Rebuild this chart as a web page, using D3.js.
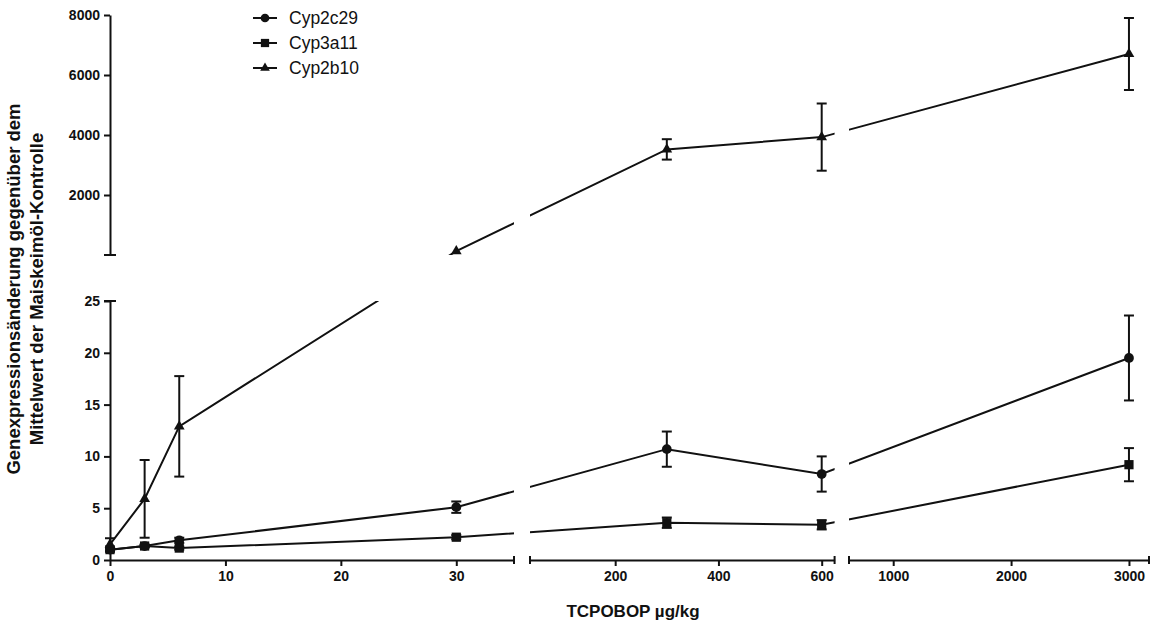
<html><head>
<title>TCPOBOP Dosis-Wirkung</title>
<script src="https://d3js.org/d3.v7.min.js"></script>
<style>
  body { margin: 0; background: #fff; }
  svg text { font-family: "Liberation Sans", Arial, sans-serif; fill: #111; }
  .axis path, .axis line { stroke: #111; stroke-width: 2; }
  .axis text { font-size: 14px; font-weight: bold; }
  .series { fill: none; stroke: #111; stroke-width: 2; }
  .err { stroke: #111; stroke-width: 2; }
  .legend text { font-size: 17.5px; }
  .label { font-size: 17px; font-weight: bold; }
  .ylabel { font-size: 18.5px; font-weight: bold; }
</style>
</head>
<body>
<svg id="chart" width="1150" height="626"></svg>

<script>
// 1. Data
let doses = [0, 3, 6, 30, 300, 600, 3000];
let seriesNames = ["Cyp2c29", "Cyp3a11", "Cyp2b10"];
let cyp2c29 = [1.0, 1.35, 1.9, 5.1, 10.7, 8.3, 19.5];
let cyp2c29Err = [0.2, 0.15, 0.25, 0.55, 1.7, 1.7, 4.1];
let cyp3a11 = [1.0, 1.35, 1.15, 2.2, 3.6, 3.4, 9.2];
let cyp3a11Err = [0.15, 0.1, 0.15, 0.2, 0.5, 0.45, 1.6];
let cyp2b10 = [1.5, 5.9, 12.9, 130, 3520, 3930, 6700];
let cyp2b10Err = [0.6, 3.75, 4.85, 0, 340, 1120, 1200];

let xTicks1 = [0, 10, 20, 30];
let xTicks2 = [200, 400, 600];
let xTicks3 = [1000, 2000, 3000];
let yTicksLow = [0, 5, 10, 15, 20, 25];
let yTicksHigh = [2000, 4000, 6000, 8000];

// 2. Broken scales: three x segments, two y panels
let svg = d3.select("svg#chart");
let xSegs = [
  d3.scaleLinear().domain([0, 35]).range([110, 514]),
  d3.scaleLinear().domain([35, 625]).range([530, 834.6]),
  d3.scaleLinear().domain([625, 3170]).range([849, 1149])
];
let yLow = d3.scaleLinear().domain([0, 25]).range([560, 301]);
let yHigh = d3.scaleLinear().domain([0, 8000]).range([255, 15]);
let fmt = d3.format("d");

function xPos(v) {
  if (v <= 35) return xSegs[0](v);
  if (v <= 625) return xSegs[1](v);
  return xSegs[2](v);
}
function yScaleFor(v) { return v <= 25 ? yLow : yHigh; }
function yPos(v) { return yScaleFor(v)(v); }

// clip path = union of all panel pieces, so lines get the break gaps
let clip = svg.append("defs").append("clipPath").attr("id", "panels");
xSegs.forEach(function(xs, i) {
  [yLow, yHigh].forEach(function(ys) {
    let x0 = xs.range()[0] - (i == 0 ? 3 : 0);
    let x1 = xs.range()[1];
    clip.append("rect")
      .attr("x", x0).attr("width", x1 - x0)
      .attr("y", ys.range()[1]).attr("height", ys.range()[0] - ys.range()[1]);
  });
});

// 3. Axes
function cap(x1, y1, x2, y2) {
  svg.append("line").attr("class", "capline")
    .attr("x1", x1).attr("y1", y1).attr("x2", x2).attr("y2", y2)
    .attr("stroke", "#111").attr("stroke-width", 2);
}

let axisY = 560;
let xTickSets = [xTicks1, xTicks2, xTicks3];
xSegs.forEach(function(xs, i) {
  svg.append("g")
    .attr("class", "x axis")
    .attr("transform", "translate(0," + axisY + ")")
    .call(d3.axisBottom(xs).tickValues(xTickSets[i]).tickFormat(fmt)
      .tickSize(6).tickSizeOuter(0).tickPadding(5));
  let r = xs.range();
  if (i > 0) cap(r[0], axisY - 4, r[0], axisY + 4);
  cap(r[1], axisY - 4, r[1], axisY + 4);
});

svg.append("g")
  .attr("class", "y axis")
  .attr("transform", "translate(110,0)")
  .call(d3.axisLeft(yLow).tickValues(yTicksLow).tickFormat(fmt)
    .tickSize(6).tickSizeOuter(0).tickPadding(4));
cap(104, yLow(25), 116, yLow(25));

svg.append("g")
  .attr("class", "y axis")
  .attr("transform", "translate(110,0)")
  .call(d3.axisLeft(yHigh).tickValues(yTicksHigh).tickFormat(fmt)
    .tickSize(6).tickSizeOuter(0).tickPadding(4));
cap(104, yHigh(0), 116, yHigh(0));

// 4. Series lines, error bars and markers
let seriesVals = [cyp2c29, cyp3a11, cyp2b10];
let seriesErrs = [cyp2c29Err, cyp3a11Err, cyp2b10Err];
let symbols = [d3.symbolCircle, d3.symbolSquare, d3.symbolTriangle];
let symbolSizes = [75, 85, 50];

let line = d3.line()
  .x(function(d) { return xPos(d.dose); })
  .y(function(d) { return yPos(d.value); });

let lineLayer = svg.append("g").attr("clip-path", "url(#panels)");
let markLayer = svg.append("g");

seriesVals.forEach(function(vals, s) {
  let pts = doses.map(function(d, i) {
    return { dose: d, value: vals[i], err: seriesErrs[s][i] };
  });

  lineLayer.append("path").datum(pts).attr("class", "series").attr("d", line);

  pts.forEach(function(p) {
    if (p.err <= 0) return;
    let ys = yScaleFor(p.value);
    let x = xPos(p.dose);
    let yTop = ys(p.value + p.err), yBot = ys(p.value - p.err);
    markLayer.append("line").attr("class", "err")
      .attr("x1", x).attr("x2", x).attr("y1", yTop).attr("y2", yBot);
    [yTop, yBot].forEach(function(y) {
      markLayer.append("line").attr("class", "err")
        .attr("x1", x - 5).attr("x2", x + 5).attr("y1", y).attr("y2", y);
    });
  });

  markLayer.selectAll(null).data(pts).enter().append("path")
    .attr("d", d3.symbol().type(symbols[s]).size(symbolSizes[s]))
    .attr("transform", function(p) { return "translate(" + xPos(p.dose) + "," + yPos(p.value) + ")"; })
    .attr("fill", "#111");
});

// 5. Legend
let legend = svg.append("g").attr("class", "legend");
seriesNames.forEach(function(name, i) {
  let y = 18 + i * 25;
  legend.append("line").attr("x1", 253).attr("x2", 277).attr("y1", y).attr("y2", y)
    .attr("stroke", "#111").attr("stroke-width", 2);
  legend.append("path")
    .attr("d", d3.symbol().type(symbols[i]).size(symbolSizes[i] * 0.8))
    .attr("transform", "translate(265," + y + ")")
    .attr("fill", "#111");
  legend.append("text").attr("x", 289).attr("y", y).attr("dy", "0.35em").text(name);
});

// 6. Axis titles
svg.append("text").attr("class", "label")
  .attr("x", 633).attr("y", 617)
  .attr("text-anchor", "middle")
  .text("TCPOBOP \u00b5g/kg");

let yTitle = svg.append("text").attr("class", "ylabel")
  .attr("text-anchor", "middle")
  .attr("transform", "translate(0,289) rotate(-90)");
yTitle.append("tspan").attr("x", 0).attr("y", 20).text("Genexpressions\u00e4nderung gegen\u00fcber dem");
yTitle.append("tspan").attr("x", 0).attr("y", 43).text("Mittelwert der Maiskeim\u00f6l-Kontrolle");
</script>
</body>
</html>
